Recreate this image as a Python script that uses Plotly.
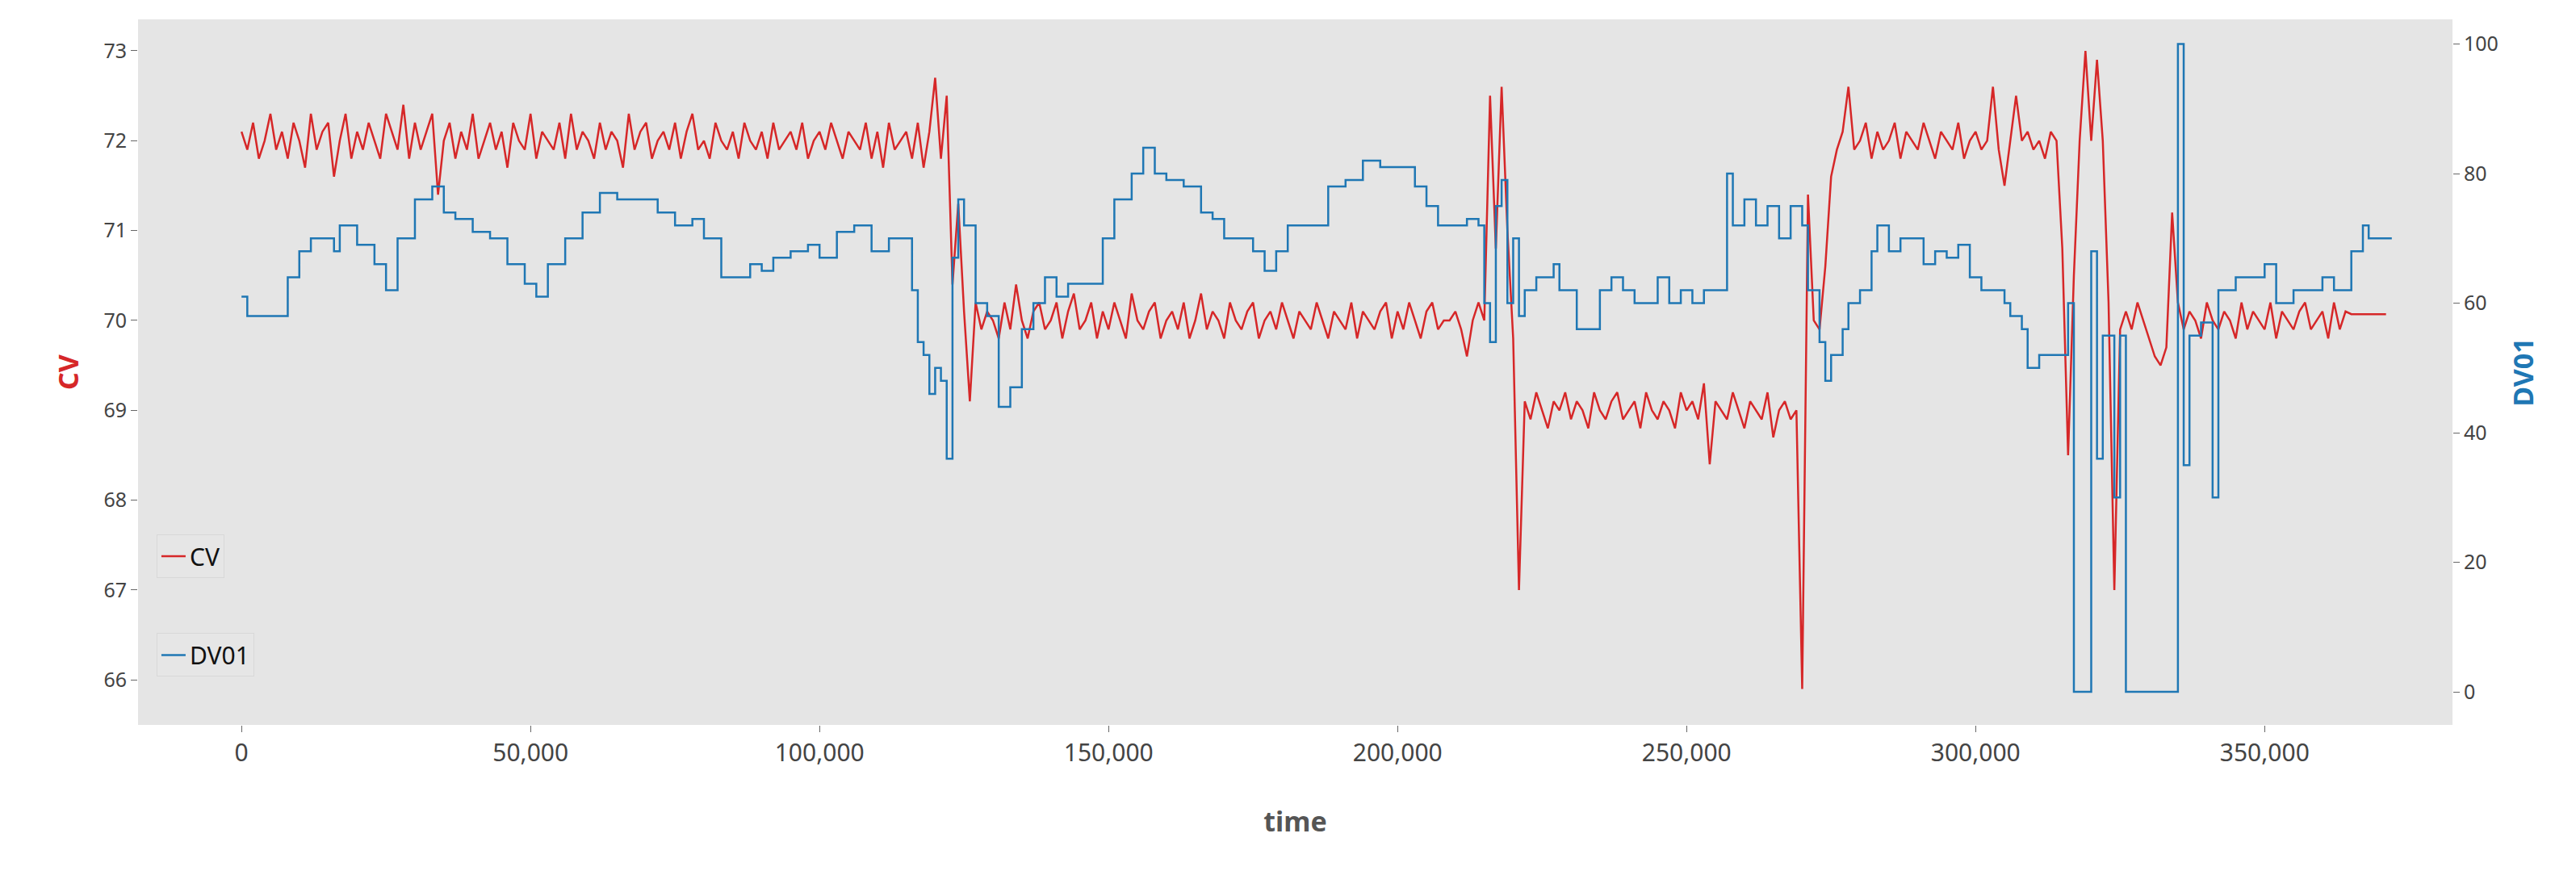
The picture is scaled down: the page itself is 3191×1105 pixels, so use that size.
import plotly.graph_objects as go

CV_STEP = 1000
CV_VALUES = [
    72.1, 71.9, 72.2, 71.8, 72.0, 72.3, 71.9, 72.1, 71.8, 72.2,
    72.0, 71.7, 72.3, 71.9, 72.1, 72.2, 71.6, 72.0, 72.3, 71.8,
    72.1, 71.9, 72.2, 72.0, 71.8, 72.3, 72.1, 71.9, 72.4, 71.8,
    72.2, 71.9, 72.1, 72.3, 71.4, 72.0, 72.2, 71.8, 72.1, 71.9,
    72.3, 71.8, 72.0, 72.2, 71.9, 72.1, 71.7, 72.2, 72.0, 71.9,
    72.3, 71.8, 72.1, 72.0, 71.9, 72.2, 71.8, 72.3, 71.9, 72.1,
    72.0, 71.8, 72.2, 71.9, 72.1, 72.0, 71.7, 72.3, 71.9, 72.1,
    72.2, 71.8, 72.0, 72.1, 71.9, 72.2, 71.8, 72.1, 72.3, 71.9,
    72.0, 71.8, 72.2, 72.0, 71.9, 72.1, 71.8, 72.2, 72.0, 71.9,
    72.1, 71.8, 72.2, 71.9, 72.0, 72.1, 71.9, 72.2, 71.8, 72.0,
    72.1, 71.9, 72.2, 72.0, 71.8, 72.1, 72.0, 71.9, 72.2, 71.8,
    72.1, 71.7, 72.2, 71.9, 72.0, 72.1, 71.8, 72.2, 71.7, 72.1,
    72.7, 71.8, 72.5, 70.4, 71.3, 70.1, 69.1, 70.2, 69.9, 70.1,
    70.0, 69.8, 70.2, 69.9, 70.4, 70.0, 69.8, 70.1, 70.2, 69.9,
    70.0, 70.2, 69.8, 70.1, 70.3, 69.9, 70.0, 70.2, 69.8, 70.1,
    69.9, 70.2, 70.0, 69.8, 70.3, 70.0, 69.9, 70.1, 70.2, 69.8,
    70.0, 70.1, 69.9, 70.2, 69.8, 70.0, 70.3, 69.9, 70.1, 70.0,
    69.8, 70.2, 70.0, 69.9, 70.1, 70.2, 69.8, 70.0, 70.1, 69.9,
    70.2, 70.0, 69.8, 70.1, 70.0, 69.9, 70.2, 70.0, 69.8, 70.1,
    70.0, 69.9, 70.2, 69.8, 70.1, 70.0, 69.9, 70.1, 70.2, 69.8,
    70.1, 69.9, 70.2, 70.0, 69.8, 70.1, 70.2, 69.9, 70.0,
    70.0, 70.1, 69.9, 69.6, 70.0, 70.2, 70.0, 72.5, 70.8, 72.6,
    71.0, 69.8, 67.0, 69.1, 68.9, 69.2, 69.0, 68.8, 69.1, 69.0,
    69.2, 68.9, 69.1, 69.0, 68.8, 69.2, 69.0, 68.9, 69.1, 69.2,
    68.9, 69.0, 69.1, 68.8, 69.2, 69.0, 68.9, 69.1, 69.0, 68.8,
    69.2, 69.0, 69.1, 68.9, 69.3, 68.4, 69.1, 69.0, 68.9, 69.2,
    69.0, 68.8, 69.1, 69.0, 68.9, 69.2, 68.7, 69.0, 69.1, 68.9,
    69.0,
    65.9, 71.4, 70.0, 69.9, 70.6, 71.6, 71.9, 72.1, 72.6, 71.9,
    72.0, 72.2, 71.8, 72.1, 71.9, 72.0, 72.2, 71.8, 72.1, 72.0,
    71.9, 72.2, 72.0, 71.8, 72.1, 72.0, 71.9, 72.2, 71.8, 72.0,
    72.1, 71.9, 72.0, 72.6, 71.9, 71.5, 72.0, 72.5, 72.0, 72.1,
    71.9, 72.0, 71.8, 72.1, 72.0, 70.8, 68.5, 70.5, 72.0, 73.0,
    72.0, 72.9, 72.0, 70.2, 67.0, 69.9, 70.1, 69.9, 70.2, 70.0,
    69.8, 69.6, 69.5, 69.7, 71.2, 70.2, 69.9, 70.1, 70.0, 69.8,
    70.2, 70.0, 69.9, 70.1, 70.0, 69.8, 70.2, 69.9, 70.1, 70.0,
    69.9, 70.2, 69.8, 70.1, 70.0, 69.9, 70.1, 70.2, 69.9, 70.0,
    70.1, 69.8, 70.2, 69.9, 70.1, 70.07, 70.07, 70.07, 70.07, 70.07,
    70.07, 70.07,
]
CV_TIME = [i * CV_STEP for i in range(len(CV_VALUES))]

# DV01 is a stepped signal: change points (time, value)
DV_TIME = [
    0, 1000, 6000, 8000, 10000, 12000, 15000, 16000, 17000, 20000,
    23000, 25000, 27000, 30000, 33000, 35000, 37000, 40000, 43000, 46000,
    49000, 51000, 53000, 56000, 59000, 62000, 65000, 70000, 72000, 75000,
    78000, 80000, 83000, 86000, 88000, 90000, 92000, 95000, 98000, 100000,
    103000, 106000, 109000, 112000, 114000, 116000, 117000, 118000, 119000, 120000,
    121000, 122000, 123000, 124000, 125000, 127000, 129000, 131000, 133000, 135000,
    137000, 139000, 141000, 143000, 146000, 149000, 151000, 154000, 156000, 158000,
    160000, 163000, 166000, 168000, 170000, 173000, 175000, 177000, 179000, 181000,
    185000, 188000, 191000, 194000, 197000, 200000, 203000, 205000, 207000, 210000,
    212000, 214000, 215000, 216000, 217000, 218000, 219000, 220000, 221000, 222000,
    224000, 227000, 228000, 231000, 233000, 235000, 237000, 239000, 241000, 243000,
    245000, 247000, 249000, 251000, 253000, 256000, 257000, 258000, 260000, 262000,
    264000, 266000, 268000, 270000, 271000, 273000, 274000, 275000, 277000, 278000,
    280000, 282000, 283000, 285000, 287000, 289000, 291000, 293000, 295000, 297000,
    299000, 301000, 303000, 305000, 306000, 308000, 309000, 311000, 315000, 316000,
    317000, 319000, 320000, 321000, 322000, 324000, 325000, 326000, 334000, 335000,
    336000, 337000, 339000, 341000, 342000, 345000, 350000, 352000, 355000, 360000,
    362000, 365000, 367000, 368000, 372000,
]
DV_VALUES = [
    61, 58, 58, 64, 68, 70, 70, 68, 72, 69,
    66, 62, 70, 76, 78, 74, 73, 71, 70, 66,
    63, 61, 66, 70, 74, 77, 76, 76, 74, 72,
    73, 70, 64, 64, 66, 65, 67, 68, 69, 67,
    71, 72, 68, 70, 70, 62, 54, 52, 46, 50,
    48, 36, 67, 76, 72, 60, 58, 44, 47, 56,
    60, 64, 61, 63, 63, 70, 76, 80, 84, 80,
    79, 78, 74, 73, 70, 70, 68, 65, 68, 72,
    72, 78, 79, 82, 81, 81, 78, 75, 72, 72,
    73, 72, 60, 54, 75, 79, 60, 70, 58, 62,
    64, 66, 62, 56, 56, 62, 64, 62, 60, 60,
    64, 60, 62, 60, 62, 62, 80, 72, 76, 72,
    75, 70, 75, 72, 62, 54, 48, 52, 56, 60,
    62, 68, 72, 68, 70, 70, 66, 68, 67, 69,
    64, 62, 62, 60, 58, 56, 50, 52, 52, 60,
    0, 0, 68, 36, 55, 30, 55, 0, 0, 100,
    35, 55, 57, 30, 62, 64, 66, 60, 62, 64,
    62, 68, 72, 70, 70,
]

X_TICKS = [0, 50000, 100000, 150000, 200000, 250000, 300000, 350000]

RED = '#d62728'
BLUE = '#1f77b4'
FONT = 'Noto Sans'

fig = go.Figure()
fig.add_trace(go.Scatter(x=CV_TIME, y=CV_VALUES, mode='lines', name='CV', showlegend=True,
                         line=dict(color=RED, width=2.5), legend='legend'))
fig.add_trace(go.Scatter(x=DV_TIME, y=DV_VALUES, mode='lines', name='DV01', yaxis='y2', showlegend=True,
                         line=dict(color=BLUE, width=2.5, shape='hv'), legend='legend2'))

legend_style = dict(bgcolor='rgba(229,229,229,0.9)', bordercolor='#d8d8d8', borderwidth=1,
                    font=dict(family=FONT, size=30, color='#111'), xanchor='left', yanchor='top')

fig.update_layout(
    width=3191, height=1105,
    margin=dict(l=163, r=161, t=16, b=215),
    paper_bgcolor='white', plot_bgcolor='#e5e5e5',
    font=dict(family=FONT, size=25, color='#444'),
    xaxis=dict(range=[-17900, 382500], tickvals=X_TICKS, tickformat=',', showgrid=False,
               zeroline=False, ticks='outside', ticklen=8, tickcolor='#666',
               tickfont=dict(size=30, color='#444'),
               title=dict(text='<b>time</b>', font=dict(size=34, color='#555'), standoff=55)),
    yaxis=dict(range=[65.5, 73.35], dtick=1, showgrid=False, zeroline=False,
               ticks='outside', ticklen=8, tickcolor='#666',
               title=dict(text='<b>CV</b>', font=dict(size=34, color=RED), standoff=20)),
    yaxis2=dict(range=[-5.1, 103.8], dtick=20, overlaying='y', side='right', showgrid=False,
                zeroline=False, ticks='outside', ticklen=8, tickcolor='#666',
                title=dict(text='<b>DV01</b>', font=dict(size=34, color=BLUE), standoff=20)),
    legend=dict(x=0.008, y=0.27, **legend_style),
    legend2=dict(x=0.008, y=0.13, **legend_style),
)

fig.write_html('out.html')
